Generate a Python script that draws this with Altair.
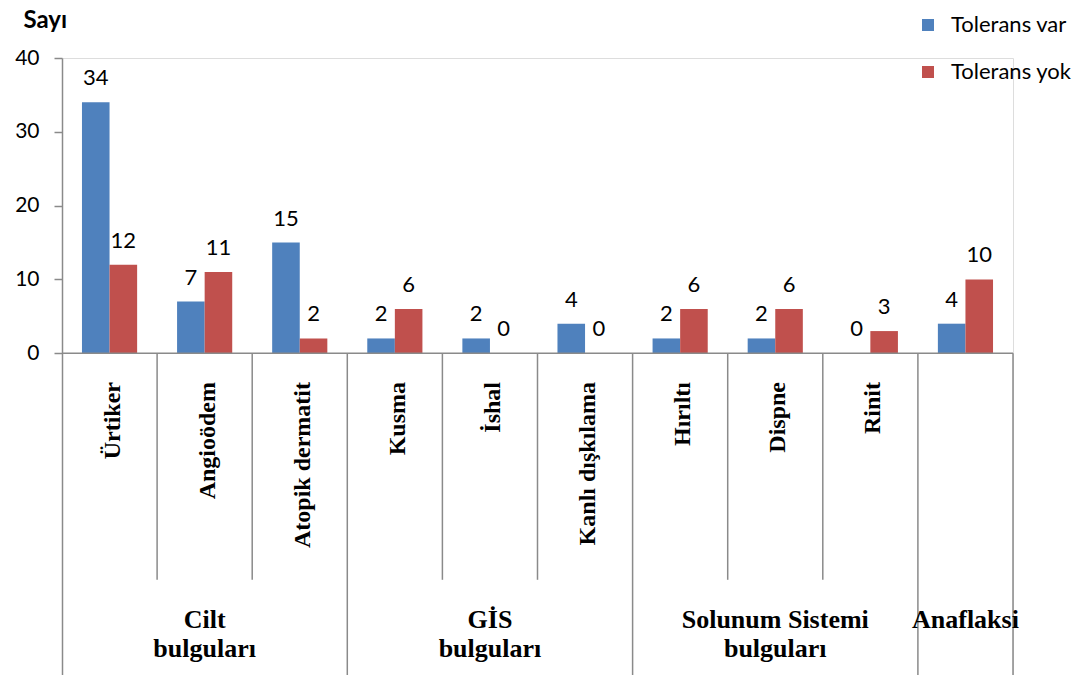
import altair as alt
import pandas as pd

# Findings, grouped by organ system
categories = ["Ürtiker", "Angioödem", "Atopik dermatit", "Kusma", "İshal",
              "Kanlı dışkılama", "Hırıltı", "Dispne", "Rinit", "Anaflaksi"]
groups = ["Cilt\nbulguları", "Cilt\nbulguları", "Cilt\nbulguları",
          "GİS\nbulguları", "GİS\nbulguları", "GİS\nbulguları",
          "Solunum Sistemi\nbulguları", "Solunum Sistemi\nbulguları",
          "Solunum Sistemi\nbulguları", "Anaflaksi"]
tolerans_var = [34, 7, 15, 2, 2, 4, 2, 2, 0, 4]
tolerans_yok = [12, 11, 2, 6, 0, 0, 6, 6, 3, 10]
series_names = ["Tolerans var", "Tolerans yok"]
colors = ["#4F81BD", "#C0504D"]
y_ticks = [0, 10, 20, 30, 40]

Y_MIN, Y_MAX = -43.6, 40      # negative span holds the two-level category axis
BAR_W = 0.29                  # bar width in category units
SHORT_LINE = -30.7            # divider length between categories
LABEL_TOP = -3.9              # top end of the rotated category names
GROUP_BASE = -37.2            # baseline of the first group-label line

n = len(categories)

# bars in long format
rows = []
for i, cat in enumerate(categories):
    c = i + 0.5
    for s, vals, off in ((series_names[0], tolerans_var, -1), (series_names[1], tolerans_yok, 0)):
        x0 = c + off * BAR_W
        rows.append({"category": cat, "series": s, "value": vals[i],
                     "x0": x0, "x1": x0 + BAR_W, "xc": x0 + BAR_W / 2})
bars_df = pd.DataFrame(rows)

# category names; a group with a single finding of the same name shows only the group label
cat_idx = [i for i in range(n) if categories[i] != groups[i]]
cat_df = pd.DataFrame({"name": [categories[i] for i in cat_idx],
                       "x": [i + 0.5 for i in cat_idx],
                       "y": [LABEL_TOP] * len(cat_idx)})

# group spans and their labels
spans = []
start = 0
for i in range(1, n + 1):
    if i == n or groups[i] != groups[start]:
        spans.append((groups[start], start, i))
        start = i
group_df = pd.DataFrame({"name": [g for g, a, b in spans],
                         "x": [(a + b) / 2 for g, a, b in spans],
                         "y": [GROUP_BASE] * len(spans)})

# divider lines below the axis: long ones at group edges, short ones inside groups
group_edges = {b for g, a, b in spans}
div_rows = []
for k in range(1, n + 1):
    div_rows.append({"x": k, "y0": 0, "y1": Y_MIN if k in group_edges else SHORT_LINE})
div_df = pd.DataFrame(div_rows)
base_df = pd.DataFrame({"x0": [0], "x1": [n], "y": [0]})

x_scale = alt.Scale(domain=[0, n], nice=False, zero=False)
y_scale = alt.Scale(domain=[Y_MIN, Y_MAX], nice=False, zero=False)
axis_grey = "#8a8a8a"

bars = alt.Chart(bars_df).mark_bar().encode(
    x=alt.X("x0:Q", scale=x_scale, axis=None),
    x2="x1:Q",
    y=alt.Y("value:Q", scale=y_scale,
            axis=alt.Axis(values=y_ticks, grid=False, domainColor=axis_grey,
                          domainWidth=1.5, tickColor=axis_grey, tickWidth=1.5,
                          tickSize=8, labelFont="Lato", labelFontSize=21,
                          labelColor="#000000", labelPadding=15,
                          title="Sayı", titleAngle=0, titleX=-39, titleY=-31,
                          titleAlign="left", titleBaseline="alphabetic",
                          titleFont="Lato", titleFontSize=24,
                          titleFontWeight="bold", titleColor="#000000")),
    y2=alt.datum(0),
    color=alt.Color("series:N",
                    scale=alt.Scale(domain=series_names, range=colors),
                    legend=alt.Legend(title=None, orient="none", legendX=855,
                                      legendY=-44, direction="vertical",
                                      symbolType="square", symbolSize=144,
                                      symbolStrokeWidth=0, labelFont="Lato",
                                      labelFontSize=22, labelColor="#000000",
                                      labelOffset=12, rowPadding=25, padding=0)),
)

values = alt.Chart(bars_df).mark_text(
    font="Lato", fontSize=22, color="#000000", baseline="alphabetic", dy=-17
).encode(
    x=alt.X("xc:Q", scale=x_scale, axis=None),
    y=alt.Y("value:Q", scale=y_scale),
    text="value:Q",
)

baseline = alt.Chart(base_df).mark_rule(color=axis_grey, strokeWidth=1.5).encode(
    x=alt.X("x0:Q", scale=x_scale, axis=None),
    x2="x1:Q",
    y=alt.Y("y:Q", scale=y_scale),
)

dividers = alt.Chart(div_df).mark_rule(color=axis_grey, strokeWidth=1.5).encode(
    x=alt.X("x:Q", scale=x_scale, axis=None),
    y=alt.Y("y0:Q", scale=y_scale),
    y2="y1:Q",
)

cat_labels = alt.Chart(cat_df).mark_text(
    font="Liberation Serif", fontWeight="bold", fontSize=24, color="#000000",
    angle=270, align="right", baseline="middle", dy=3
).encode(
    x=alt.X("x:Q", scale=x_scale, axis=None),
    y=alt.Y("y:Q", scale=y_scale),
    text="name:N",
)

group_labels = alt.Chart(group_df).mark_text(
    font="Liberation Serif", fontWeight="bold", fontSize=26, color="#000000",
    align="center", baseline="alphabetic", lineBreak="\n", lineHeight=29
).encode(
    x=alt.X("x:Q", scale=x_scale, axis=None),
    y=alt.Y("y:Q", scale=y_scale),
    text="name:N",
)

chart = alt.layer(
    bars, baseline, dividers, values, cat_labels, group_labels
).properties(
    width=951, height=617, autosize="none",
    padding={"left": 62, "top": 58, "right": 77, "bottom": 0},
).configure_view(stroke=None).configure(background="#ffffff")

chart.save("out.html", embed_options={"renderer": "svg", "actions": False})
